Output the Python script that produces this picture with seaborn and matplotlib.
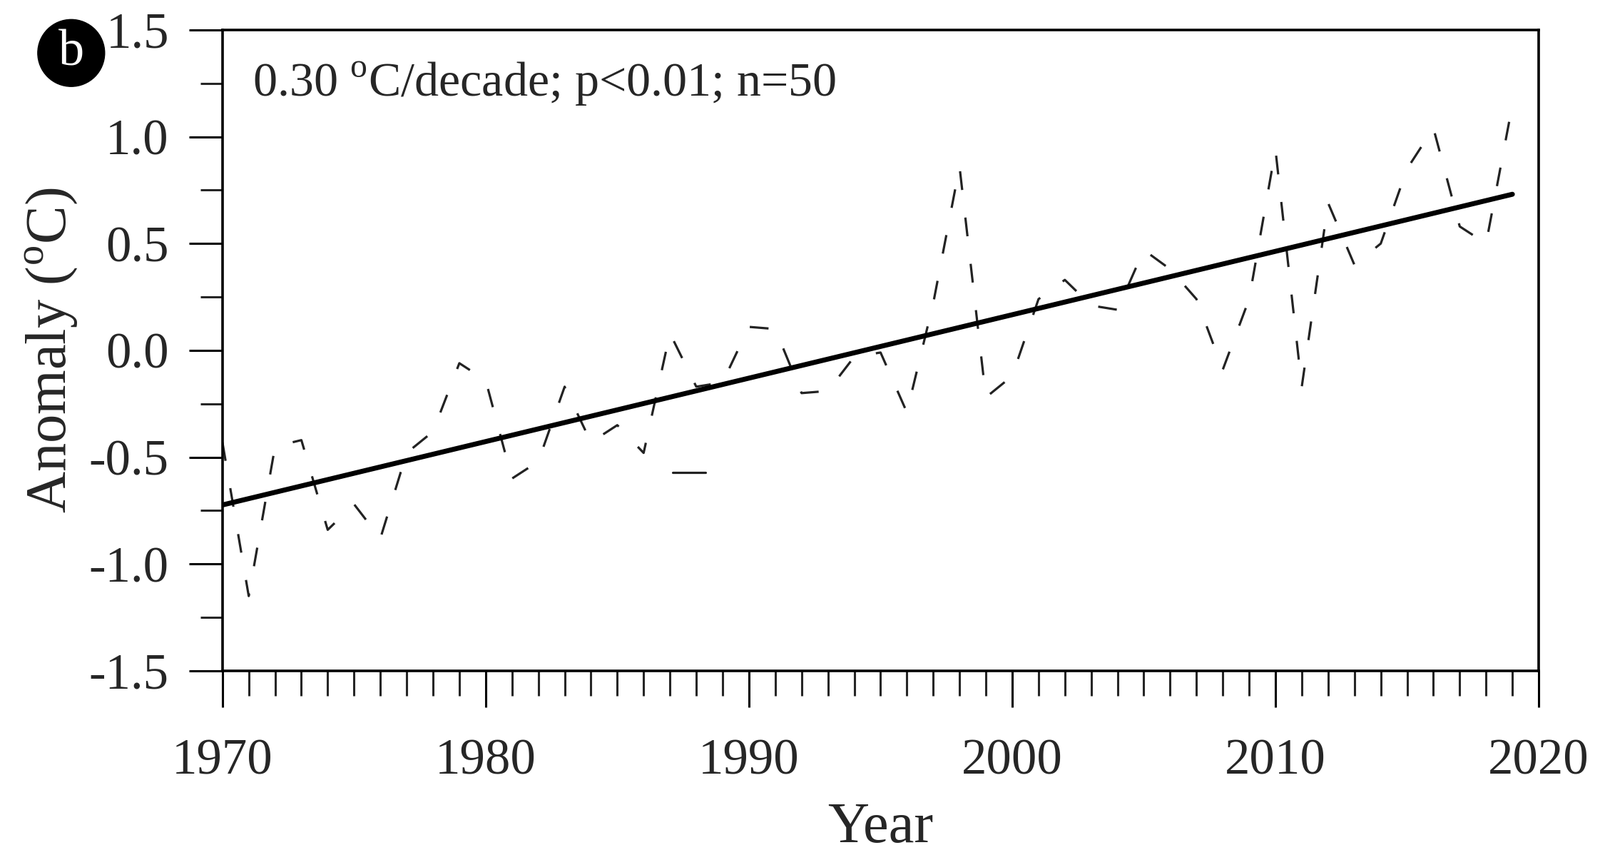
import numpy as np
import pandas as pd
import matplotlib
matplotlib.use("Agg")
import matplotlib.pyplot as plt
import seaborn as sns
from matplotlib.ticker import MultipleLocator

# Annual temperature anomaly (ºC)
years = list(range(1970, 2020))
anomaly = [
    -0.43, -1.15, -0.45, -0.42, -0.84, -0.72, -0.88, -0.48, -0.38, -0.06,
    -0.14, -0.60, -0.52, -0.17, -0.43, -0.35, -0.48, 0.08, -0.17, -0.15,
    0.11, 0.10, -0.20, -0.19, -0.03, -0.01, -0.29, 0.22, 0.86, -0.22,
    -0.12, 0.24, 0.33, 0.21, 0.19, 0.47, 0.38, 0.24, -0.09, 0.24,
    0.94, -0.17, 0.69, 0.40, 0.50, 0.85, 1.04, 0.58, 0.50, 1.15,
]
# short stray horizontal stroke visible in the original panel
stray_years = [1987.1, 1988.35]
stray_vals = [-0.57, -0.57]

annotation = "0.30 $^{\\rm o}$C/decade; p<0.01; n=50"
panel_tag = "b"
x_ticks = [1970, 1980, 1990, 2000, 2010, 2020]
y_ticks = [-1.5, -1.0, -0.5, 0.0, 0.5, 1.0, 1.5]

sns.set_style("ticks")
plt.rcParams["font.family"] = ["Liberation Serif", "DejaVu Serif"]
plt.rcParams["mathtext.fontset"] = "custom"
plt.rcParams["mathtext.rm"] = "Liberation Serif"

df = pd.DataFrame({"Year": years, "Anomaly": anomaly})

fig = plt.figure(figsize=(22.43, 11.98), dpi=100)
ax = fig.add_axes([0.139, 0.2154, 0.8227, 0.7496])

lw = 2.3
sns.lineplot(data=df, x="Year", y="Anomaly", ax=ax, color="#222222",
             linewidth=lw, linestyle=(0, (19 / lw, 28 / lw)))
ax.plot(stray_years, stray_vals, color="#222222", linewidth=lw)
sns.regplot(data=df, x="Year", y="Anomaly", ax=ax, scatter=False, ci=None,
            line_kws={"color": "black", "linewidth": 5.0})

ax.set_xlim(1970, 2020)
ax.set_ylim(-1.5, 1.5)
ax.set_xticks(x_ticks)
ax.set_yticks(y_ticks)
ax.set_yticklabels([f"{v:.1f}" for v in y_ticks])
ax.xaxis.set_minor_locator(MultipleLocator(1))
ax.yaxis.set_minor_locator(MultipleLocator(0.25))
ax.tick_params(axis="both", which="major", direction="out", width=2.2,
               labelsize=51, color="black")
ax.tick_params(axis="x", which="major", length=37, pad=31)
ax.tick_params(axis="y", which="major", length=34, pad=20)
ax.tick_params(axis="x", which="minor", direction="out", length=25, width=2.2)
ax.tick_params(axis="y", which="minor", direction="out", length=22, width=2.2)
for side in ["left", "right", "top", "bottom"]:
    ax.spines[side].set_visible(True)
    ax.spines[side].set_linewidth(2.6)
    ax.spines[side].set_color("black")

ax.set_xlabel("Year", fontsize=58, labelpad=18)
ax.set_ylabel("Anomaly ($^{\\rm o}$C)", fontsize=58, labelpad=10)

ax.text(0.023, 0.916, annotation, transform=ax.transAxes, fontsize=49,
        ha="left", va="center")

fig.text(0.0445, 0.938, panel_tag, fontsize=52, color="white",
         ha="center", va="center",
         bbox=dict(boxstyle="circle,pad=0.2", facecolor="black",
                   edgecolor="black"))

fig.savefig("out.png", dpi=100)
plt.close(fig)
